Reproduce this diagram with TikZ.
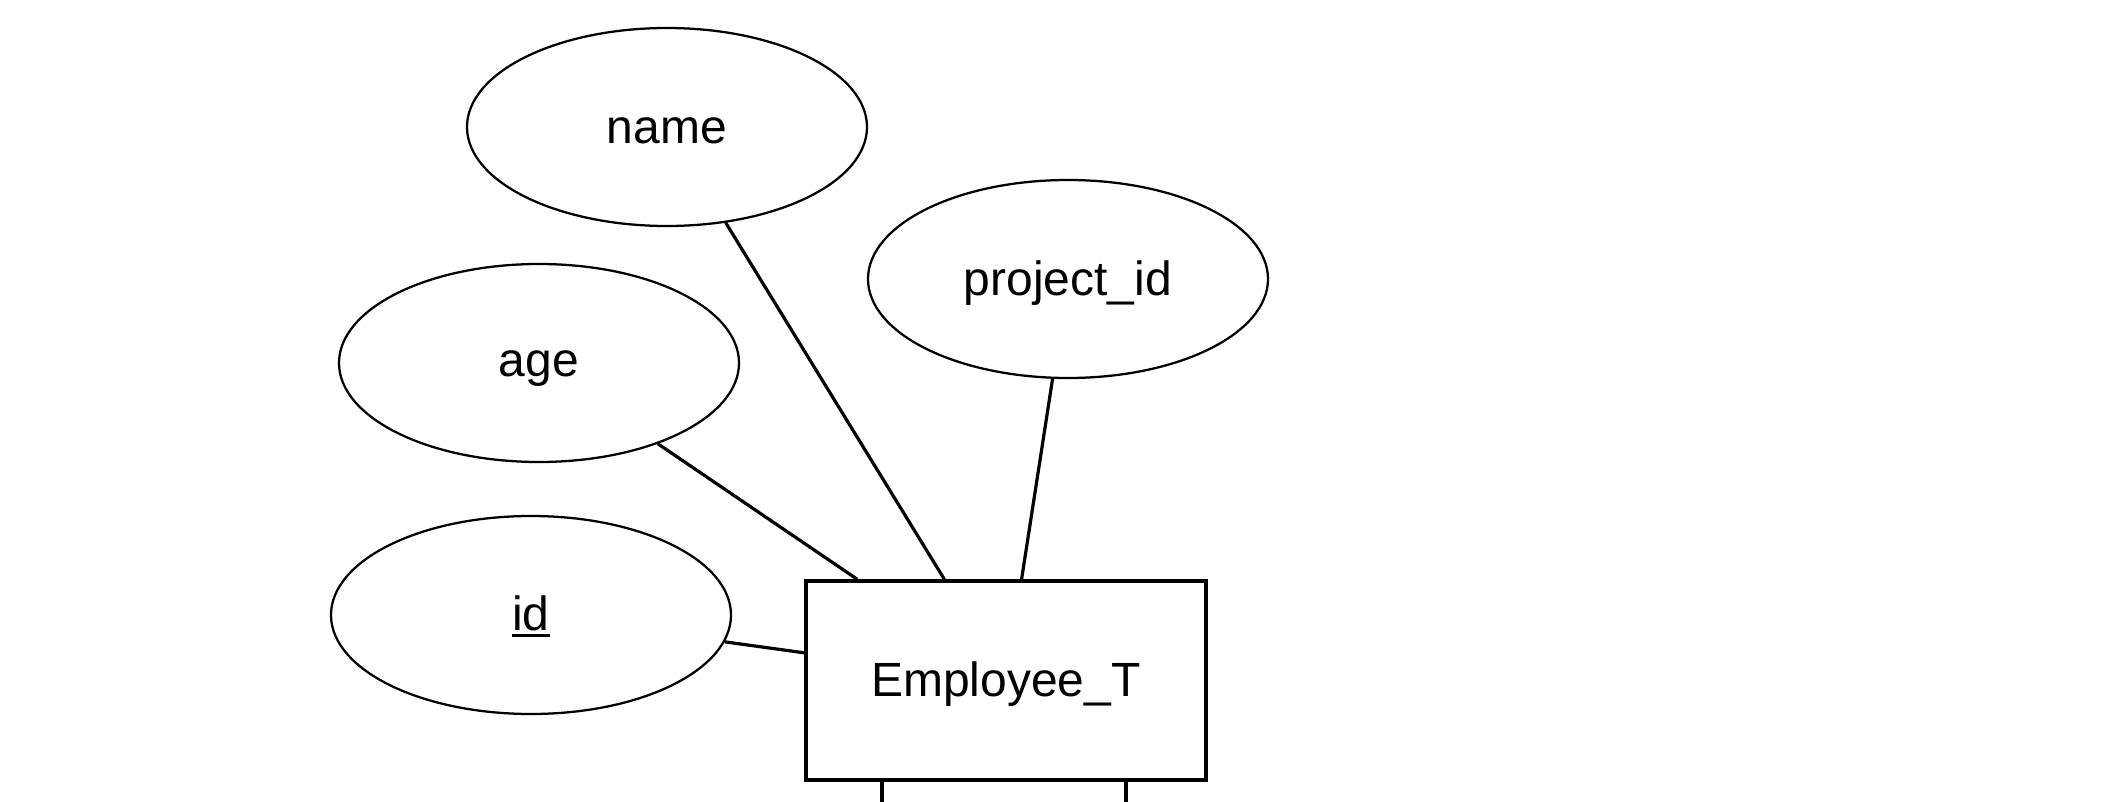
\documentclass[tikz,border=0pt]{standalone}
\usepackage{fontspec}
\setmainfont{Liberation Sans}
\usetikzlibrary{shapes.geometric}
\newcommand\lowtext[2][3pt]{\raisebox{-#1}[\height][\depth]{#2}}
\newcommand\keyline[1]{\setbox0\hbox{#1}\rlap{\raisebox{-0.155em}{\rule{\wd0}{0.07em}}}\box0}
\begin{document}
\begin{tikzpicture}[x=0.75pt,y=-0.75pt,
  attr/.style={ellipse,draw,line width=1.7pt,minimum width=300pt,minimum height=148.5pt,inner sep=0pt,font=\fontsize{36}{40}\selectfont},
  entity/.style={rectangle,draw,line width=2.6pt,minimum width=300pt,minimum height=149.25pt,inner sep=0pt,font=\fontsize{36}{40}\selectfont},
  link/.style={line width=2.4pt}]
\useasboundingbox[fill=white] (0,0) rectangle (2114,802);
\node[attr] (name) at (667,127) {\lowtext{name}};
\node[attr] (proj) at (1068,279) {\lowtext{project\_id}};
\node[attr] (age) at (539,363) {\lowtext[4.5pt]{age}};
\node[attr] (id) at (531,615) {\lowtext[1pt]{\keyline{id}}};
\node[entity] (emp) at (1006,680.5) {\lowtext{Employee\_T}};
\coordinate (b1) at (882,802);
\coordinate (b2) at (1126,802);
\draw[link] (name) -- (emp);
\draw[link] (proj) -- (emp);
\draw[link] (age) -- (emp);
\draw[link] (id) -- (emp);
\draw[link] (emp.south -| b1) -- (b1);
\draw[link] (emp.south -| b2) -- (b2);
\end{tikzpicture}
\end{document}
